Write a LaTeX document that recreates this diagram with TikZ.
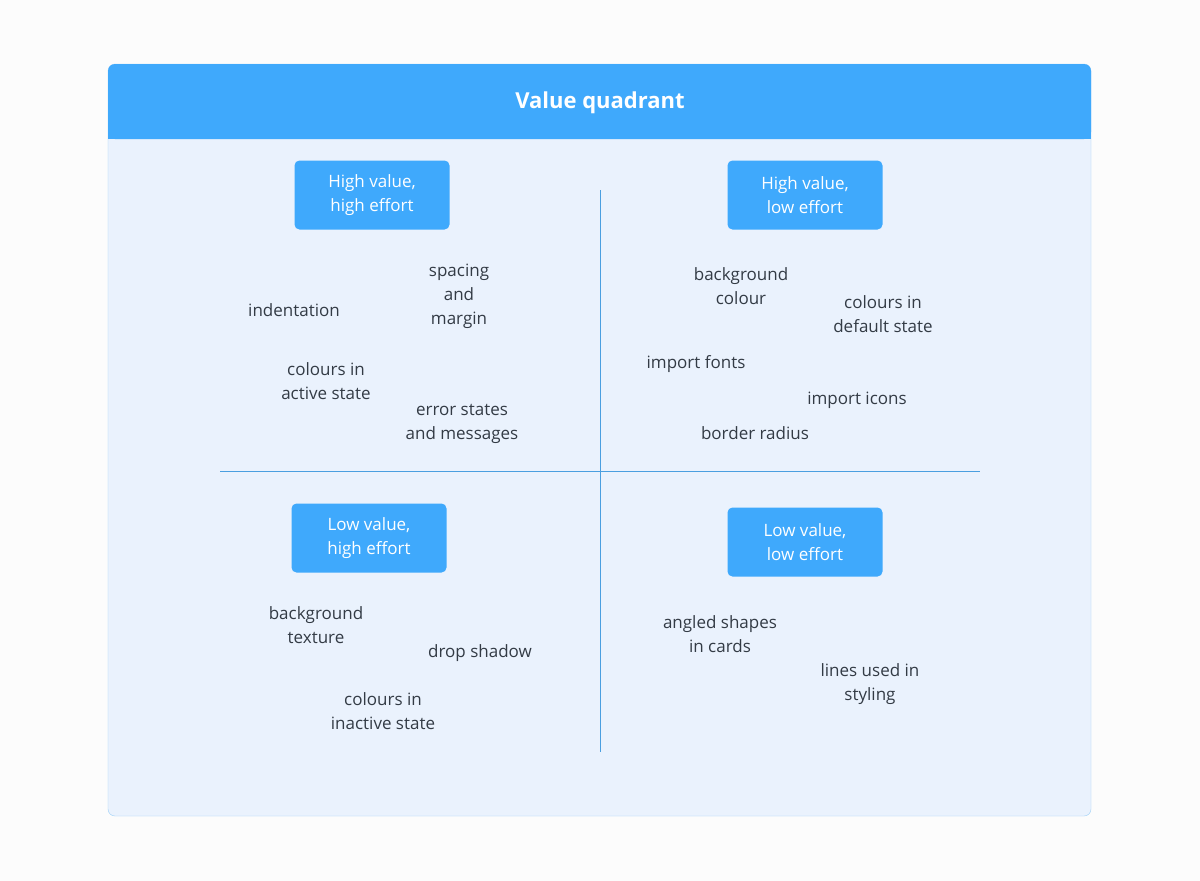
\documentclass[tikz,border=0pt]{standalone}
\usepackage{fontspec}
\setmainfont{Open Sans}
\usepackage{tikz}
\definecolor{pageback}{HTML}{FCFCFC}
\definecolor{panelfill}{HTML}{EAF2FD}
\definecolor{panelline}{HTML}{9CCFF7}
\definecolor{headblue}{HTML}{3FA9FC}
\definecolor{axisblue}{HTML}{4A9FE0}
\definecolor{itemtext}{HTML}{333B45}

\begin{document}
\begin{tikzpicture}[x=1pt,y=-1pt,
	every node/.style={align=center,font=\fontsize{17}{24}\selectfont},
	quadlabel/.style={fill=headblue,text=white,rounded corners=5pt,minimum width=155pt,minimum height=69pt,inner sep=0pt},
	item/.style={text=itemtext,font=\fontsize{17}{24}\selectfont},
	axis/.style={draw=axisblue,line width=0.8pt}]
\useasboundingbox[fill=pageback] (0,0) rectangle (1200,881);

%panel
\draw[panelline,fill=panelfill,rounded corners=7pt] (108,64) rectangle (1091,816);
\fill[headblue,rounded corners=7pt] (108,64) rectangle (1091,139);
\fill[headblue] (108,110) rectangle (1091,139);
\node[text=white,font=\fontsize{22}{26}\selectfont\bfseries] (title) at (600,103) {Value quadrant};

%axes
\coordinate (vtop) at (600,190);
\coordinate (vbot) at (600,752);
\coordinate (hleft) at (220,471);
\coordinate (hright) at (980,471);
\draw[axis] (vtop) -- (vbot);
\draw[axis] (hleft) -- (hright);

%quadrant labels
\node[quadlabel] (hh) at (372,195) {High value,\\high effort};
\node[quadlabel] (hl) at (805,195) {High value,\\low effort};
\node[quadlabel] (lh) at (369,538) {Low value,\\high effort};
\node[quadlabel] (ll) at (805,542) {Low value,\\low effort};

%items
\node[item] (indent) at (294,310) {indentation};
\node[item] (spacing) at (459,296) {spacing\\and\\margin};
\node[item] (active) at (326,381) {colours in\\active state};
\node[item] (errors) at (462,424) {error states\\and messages};
\node[item] (bgcolour) at (741,286) {background\\colour};
\node[item] (default) at (883,314) {colours in\\default state};
\node[item] (fonts) at (696,364) {import fonts};
\node[item] (icons) at (857,400) {import icons};
\node[item] (radius) at (755,433) {border radius};
\node[item] (texture) at (316,625) {background\\texture};
\node[item] (shadow) at (480,653) {drop shadow};
\node[item] (inactive) at (383,711) {colours in\\inactive state};
\node[item] (angled) at (720,634) {angled shapes\\in cards};
\node[item] (lines) at (870,684) {lines used in\\styling};

\end{tikzpicture}
\end{document}
